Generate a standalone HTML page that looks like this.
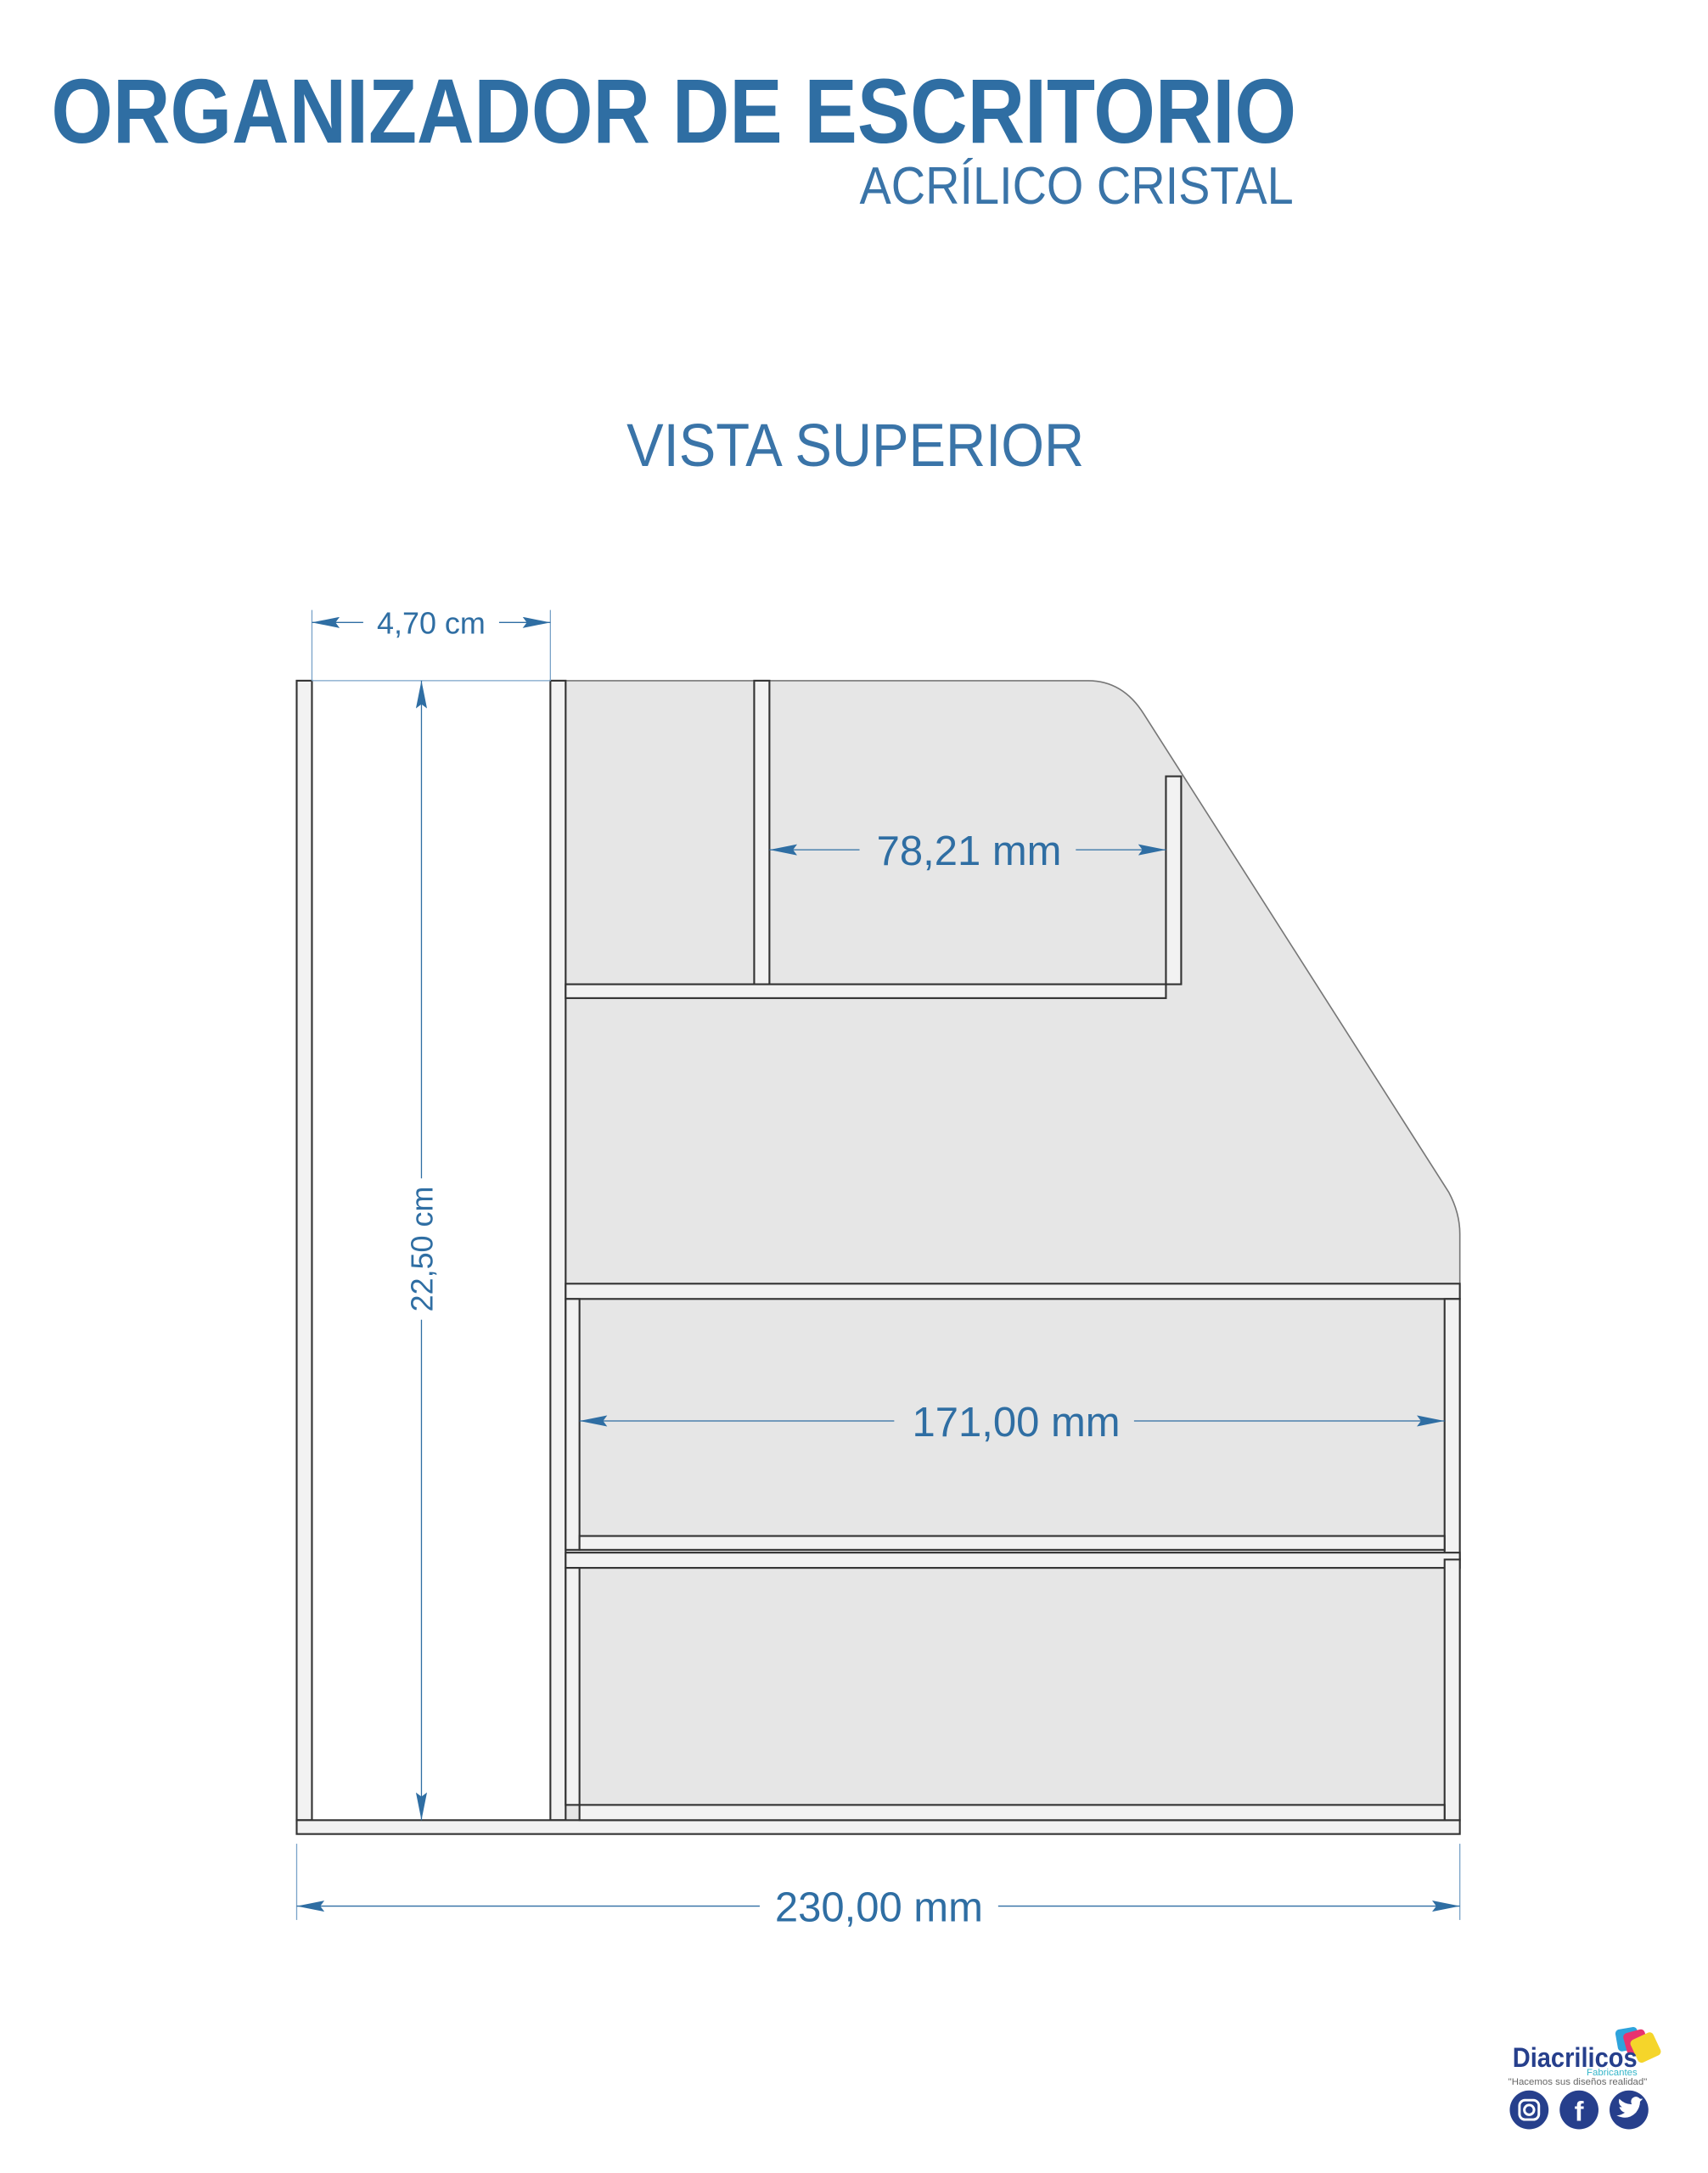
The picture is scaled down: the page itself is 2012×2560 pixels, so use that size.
<!DOCTYPE html>
<html><head><meta charset="utf-8"><style>
html,body{margin:0;padding:0;background:#fff;}
svg{display:block;}
</style></head><body>
<svg width="2012" height="2560" viewBox="0 0 1232 1567.5" xmlns="http://www.w3.org/2000/svg" font-family="Liberation Sans, sans-serif">
<defs>
<marker id="ar" viewBox="0 0 20 8" refX="20" refY="4" markerWidth="20" markerHeight="8" markerUnits="userSpaceOnUse" orient="auto-start-reverse"><path d="M0,0 L20,4 L0,8 L3,4 z" fill="#2f6ea3"/></marker>
</defs>
<text x="37" y="103" font-size="66" font-weight="bold" fill="#2f6ea3" textLength="898" lengthAdjust="spacingAndGlyphs">ORGANIZADOR DE ESCRITORIO</text>
<text x="620" y="147" font-size="38" fill="#3a74a8" textLength="313" lengthAdjust="spacingAndGlyphs">ACRÍLICO CRISTAL</text>
<text x="452" y="336" font-size="44" fill="#3a74a8" textLength="330" lengthAdjust="spacingAndGlyphs">VISTA SUPERIOR</text>

<path d="M408,491 L785,491 Q810,491 825,515 L1045,860 Q1053,875 1053,890 L1053,926 L408,926 Z" fill="#e6e6e6" stroke="#777" stroke-width="1"/>
<rect x="408" y="926" width="645" height="387" fill="#e6e6e6"/>
<g fill="#f2f2f2" stroke="#333" stroke-width="1.3">
<rect x="214" y="491" width="11" height="822"/>
<rect x="397" y="491" width="11" height="822"/>
<rect x="214" y="1313" width="839" height="10"/>
<rect x="544" y="491" width="11" height="219"/>
<rect x="841" y="560" width="11" height="150"/>
<rect x="408" y="710" width="433" height="10"/>
<rect x="408" y="926" width="645" height="11"/>
<rect x="408" y="937" width="10" height="181"/>
<rect x="1042" y="937" width="11" height="188"/>
<rect x="418" y="1108" width="624" height="10"/>
<rect x="408" y="1120" width="645" height="11"/>
<rect x="408" y="1131" width="10" height="171"/>
<rect x="1042" y="1125" width="11" height="188"/>
<rect x="418" y="1302" width="624" height="11"/>
</g>

<g stroke="#7aa3c8" stroke-width="0.8" fill="none">
<line x1="225" y1="440" x2="225" y2="491"/>
<line x1="397" y1="440" x2="397" y2="491"/>
<line x1="225" y1="491" x2="397" y2="491"/>
<line x1="214" y1="1330" x2="214" y2="1385"/>
<line x1="1053" y1="1330" x2="1053" y2="1385"/>
</g>
<g stroke="#2f6ea3" stroke-width="0.8" fill="none">
<line x1="225" y1="449" x2="262" y2="449" marker-start="url(#ar)"/>
<line x1="360" y1="449" x2="397" y2="449" marker-end="url(#ar)"/>
<line x1="304" y1="491" x2="304" y2="850" marker-start="url(#ar)"/>
<line x1="304" y1="952" x2="304" y2="1313" marker-end="url(#ar)"/>
<line x1="555" y1="613" x2="620" y2="613" marker-start="url(#ar)"/>
<line x1="776" y1="613" x2="841" y2="613" marker-end="url(#ar)"/>
<line x1="418" y1="1025" x2="645" y2="1025" marker-start="url(#ar)"/>
<line x1="818" y1="1025" x2="1042" y2="1025" marker-end="url(#ar)"/>
<line x1="214" y1="1375" x2="548" y2="1375" marker-start="url(#ar)"/>
<line x1="720" y1="1375" x2="1053" y2="1375" marker-end="url(#ar)"/>
</g>
<g fill="#2f6ea3" text-anchor="middle">
<text x="311" y="457" font-size="22">4,70 cm</text>
<text x="0" y="0" font-size="22" transform="translate(312,901) rotate(-90)">22,50 cm</text>
<text x="699" y="624" font-size="30">78,21 mm</text>
<text x="733" y="1036" font-size="30">171,00 mm</text>
<text x="634" y="1386" font-size="30">230,00 mm</text>
</g>

<g>
<rect x="1166" y="1463" width="16" height="16" rx="3" fill="#2ea3dc" transform="rotate(-10 1174 1471)"/>
<rect x="1172" y="1465" width="16" height="16" rx="3" fill="#e8336f" transform="rotate(-15 1180 1473)"/>
<rect x="1178" y="1468" width="18" height="18" rx="3" fill="#f5d52a" transform="rotate(-25 1187 1477)"/>
<text x="1091" y="1491" font-size="20" font-weight="bold" fill="#263f8c" textLength="90" lengthAdjust="spacingAndGlyphs">Diacrilicos</text>
<text x="1181" y="1497" font-size="7" fill="#35b6c9" text-anchor="end">Fabricantes</text>
<text x="1138" y="1504" font-size="7" fill="#666" text-anchor="middle">"Hacemos sus diseños realidad"</text>
<circle cx="1103" cy="1522" r="14" fill="#263f8c"/>
<circle cx="1139" cy="1522" r="14" fill="#263f8c"/>
<circle cx="1175" cy="1522" r="14" fill="#263f8c"/>
<rect x="1096" y="1515" width="14" height="14" rx="4" fill="none" stroke="#fff" stroke-width="1.8"/>
<circle cx="1103" cy="1522" r="3.5" fill="none" stroke="#fff" stroke-width="1.8"/>
<text x="1139" y="1530" font-size="20" font-weight="bold" fill="#fff" text-anchor="middle">f</text>
<path d="M1166,1526 q8,4 14,-2 q3,-4 3,-8 l2,-2 -2,0 q-3,-3 -6,0 q-1,2 0,4 q-5,0 -9,-4 q-1,4 2,6 l-2,0 q1,3 4,4 q-3,2 -6,2z" fill="#fff"/>
</g>
</svg>
</body></html>
